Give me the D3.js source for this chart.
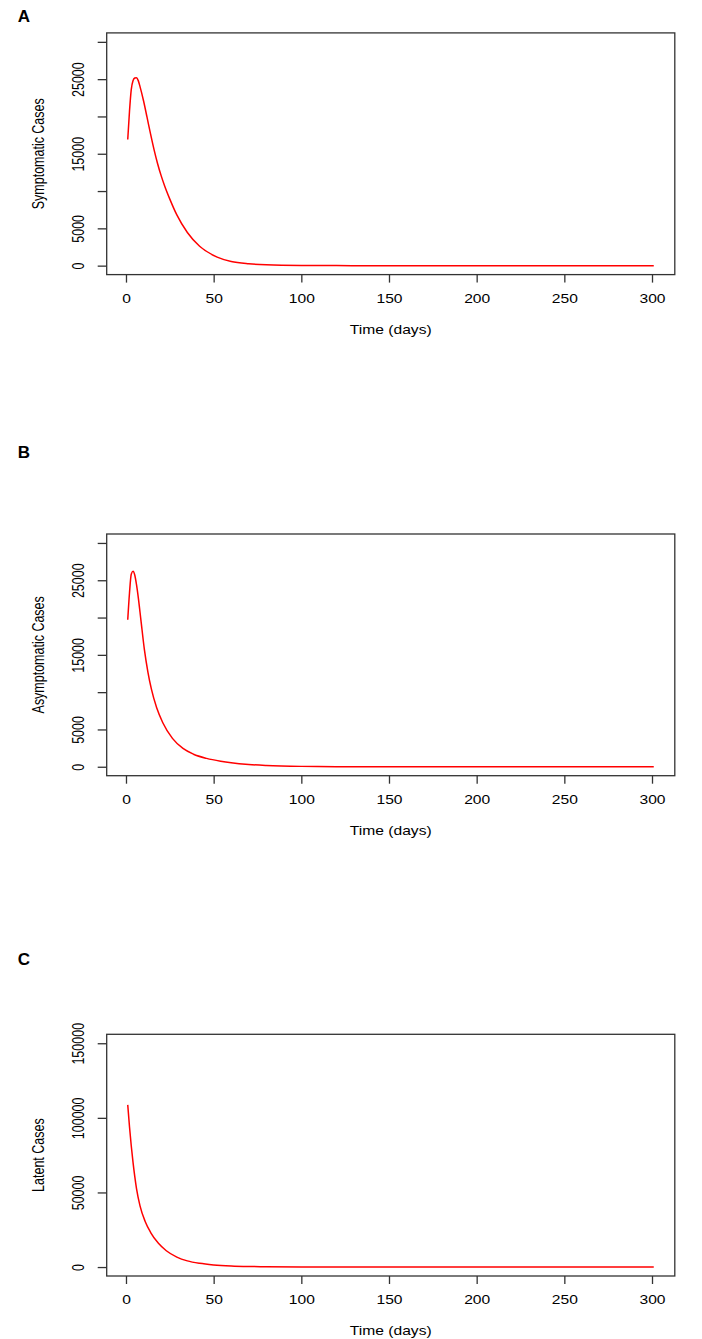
<!DOCTYPE html>
<html lang="en">
  <head>
    <script src="https://d3js.org/d3.v7.min.js"></script>
    <meta charset="utf-8">
    <style>
      body { margin: 0; background: #fff; }
      svg text { font-family: "Liberation Sans", Arial, sans-serif; fill: #000; }
      .box { fill: none; stroke: #333; stroke-width: 1.3; }
      .tick line { stroke: #333; stroke-width: 1.3; }
      .curve { fill: none; stroke: #ff0000; stroke-width: 1.5; }
    </style>
    <title></title>
  </head>
  <body>
    <svg id="chart" width="702" height="1339"></svg>
  </body>
</html>

<script>
    // readings (day, cases)
    const daysA = [1, 2, 3, 4, 5, 6, 7, 8, 10, 12, 14, 16, 18, 20, 22, 25, 29, 35, 42, 52, 60, 70, 80, 100, 120, 150, 200, 250, 301];
    const symptomatic = [16900, 20700, 23600, 24800, 25150, 25200, 24800, 24000, 22100, 19900, 17660, 15560, 13700, 12100, 10720, 8920, 6800, 4450, 2600, 1150, 560, 250, 110, 22, 5, 0, 0, 0, 0];

    const daysB = [1, 2, 3, 4, 5, 6, 7, 8.5, 10.5, 12.5, 14.5, 17.5, 21, 26.5, 32.5, 38.5, 46, 54, 60, 70, 80, 100, 120, 150, 200, 250, 301];
    const asymptomatic = [19700, 23300, 25800, 26200, 25700, 24400, 22700, 19700, 15700, 12700, 10400, 7900, 5900, 3800, 2450, 1680, 1120, 740, 530, 300, 170, 50, 15, 0, 0, 0, 0];

    const daysC = [1, 2, 3, 4, 5, 6, 8, 11, 14, 18.5, 23, 29, 35, 42, 50, 60, 70, 80, 100, 120, 150, 200, 250, 301];
    const latent = [108700, 94000, 81300, 70300, 60800, 52600, 41000, 30400, 23300, 15900, 10900, 6650, 4120, 2490, 1440, 730, 370, 185, 48, 12, 0, 0, 0, 0];

    const xTicks = [0, 50, 100, 150, 200, 250, 300];
    const yTicksAB = [0, 5000, 10000, 15000, 20000, 25000, 30000];
    const yLabelsAB = [0, 5000, 15000, 25000];
    const yTicksC = [0, 50000, 100000, 150000];
    const yLabelsC = [0, 50000, 100000, 150000];

    const panels = [
        { letter: "A", title: "Symptomatic Cases", days: daysA, vals: symptomatic, ticks: yTicksAB, labels: yLabelsAB,
          ydom: [-1200, 31200], top: 32.9, bottom: 274.6, letterY: 16 },
        { letter: "B", title: "Asymptomatic Cases", days: daysB, vals: asymptomatic, ticks: yTicksAB, labels: yLabelsAB,
          ydom: [-1200, 31200], top: 534, bottom: 775.7, letterY: 452.7 },
        { letter: "C", title: "Latent Cases", days: daysC, vals: latent, ticks: yTicksC, labels: yLabelsC,
          ydom: [-6000, 156000], top: 1034.3, bottom: 1276, letterY: 959 }
    ];

    const svg = d3.select("#chart");
    const left = 106.7, right = 674.8;
    const sx = 1.25; // the original is stretched sideways a bit
    const fs = 12.5;

    const x = d3.scaleLinear().domain([-11, 313]).range([left, right]);

    panels.forEach(p => {
        const y = d3.scaleLinear().domain(p.ydom).range([p.bottom, p.top]);
        const g = svg.append("g");

        g.append("rect")
            .attr("class", "box")
            .attr("x", left)
            .attr("y", p.top)
            .attr("width", right - left)
            .attr("height", p.bottom - p.top);

        // x axis
        const xa = g.append("g")
            .attr("transform", `translate(0,${p.bottom})`)
            .call(d3.axisBottom(x).tickValues(xTicks).tickSize(8).tickFormat(d3.format("d")));
        xa.select(".domain").remove();
        xa.selectAll("text")
            .attr("y", null).attr("dy", null)
            .attr("font-size", fs)
            .attr("dominant-baseline", "central")
            .attr("transform", `translate(0,23.7) scale(${sx},1)`);

        // y axis
        const ya = g.append("g")
            .attr("transform", `translate(${left},0)`)
            .call(d3.axisLeft(y).tickValues(p.ticks).tickSize(9)
                .tickFormat(d => p.labels.includes(d) ? String(d) : ""));
        ya.select(".domain").remove();
        ya.selectAll("text")
            .attr("x", null).attr("dy", null)
            .attr("font-size", fs)
            .attr("text-anchor", "middle")
            .attr("dominant-baseline", "central")
            .attr("transform", `translate(-28.7,0) scale(${sx},1) rotate(-90)`);

        // the curve
        const line = d3.line()
            .x((d, i) => x(p.days[i]))
            .y(d => y(d))
            .curve(d3.curveMonotoneX);
        g.append("path")
            .datum(p.vals)
            .attr("class", "curve")
            .attr("d", line);

        // titles
        g.append("text")
            .attr("font-size", fs)
            .attr("text-anchor", "middle")
            .attr("dominant-baseline", "central")
            .attr("transform", `translate(${(left + right) / 2},${p.bottom + 54.7}) scale(${sx},1)`)
            .text("Time (days)");

        g.append("text")
            .attr("font-size", fs)
            .attr("text-anchor", "middle")
            .attr("dominant-baseline", "central")
            .attr("transform", `translate(38,${(p.top + p.bottom) / 2}) scale(${sx},1) rotate(-90)`)
            .text(p.title);

        g.append("text")
            .attr("x", 24)
            .attr("y", p.letterY)
            .attr("font-size", 17)
            .attr("font-weight", "bold")
            .attr("text-anchor", "middle")
            .attr("dominant-baseline", "central")
            .text(p.letter);
    });
</script>
